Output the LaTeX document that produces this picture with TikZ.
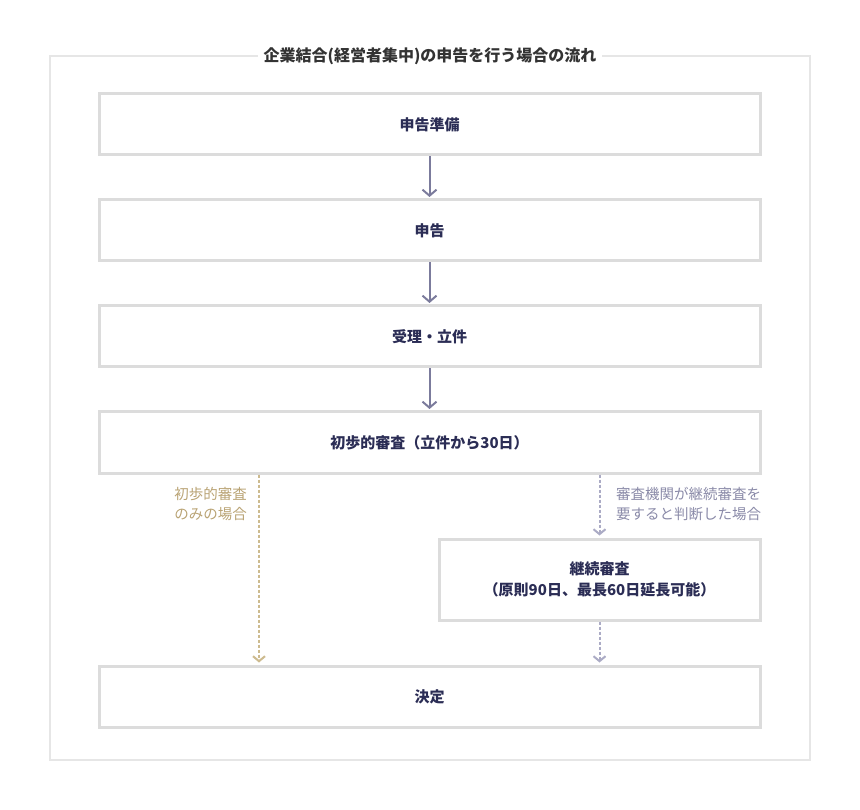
\documentclass[tikz,border=0pt]{standalone}
\usepackage{fontspec}
\setmainfont{Noto Sans CJK JP}
\usepackage{xcolor}
\usetikzlibrary{arrows.meta, positioning}

\definecolor{boxline}{HTML}{DCDCDC}
\definecolor{frameline}{HTML}{E6E6E6}
\definecolor{titletext}{HTML}{333333}
\definecolor{navytext}{HTML}{2B2D55}
\definecolor{arrowgray}{HTML}{7B7B9C}
\definecolor{onlyline}{HTML}{CDBB8F}
\definecolor{onlytext}{HTML}{B9A374}
\definecolor{contline}{HTML}{ABABC5}
\definecolor{conttext}{HTML}{8A8AA8}

\begin{document}
\begin{tikzpicture}[x=1pt, y=1pt, node distance=42pt]
    \tikzstyle{stepbox} = [rectangle, minimum width=661pt, minimum height=61pt, text centered, align=center, draw=boxline, line width=3pt, fill=white, text=navytext, font=\fontsize{15}{21}\selectfont\bfseries]
    \tikzstyle{arrow} = [line width=2pt, draw=arrowgray, -{Straight Barb[length=6pt,width=14pt]}, shorten >=1.5pt]
    \tikzstyle{dotline} = [line width=2pt, dash pattern=on 3pt off 2pt, -{Straight Barb[length=5pt,width=12pt]}, shorten >=2pt]
    \tikzstyle{note} = [font=\fontsize{14.5}{20}\selectfont, inner sep=0pt]

    \useasboundingbox (0,0) rectangle (860,-810);
    \draw [frameline, line width=1.5pt] (50,-56) rectangle (810,-760);
    \node (title) [fill=white, inner xsep=6pt, text=titletext, font=\fontsize{16}{18}\selectfont\bfseries] at (430,-56) {企業結合(経営者集中)の申告を行う場合の流れ};

    \node (prep) [stepbox] at (429.5,-124.5) {申告準備};
    \node (notify) [stepbox, below=of prep] {申告};
    \node (accept) [stepbox, below=of notify] {受理・立件};
    \node (initial) [stepbox, below=of accept] {初歩的審査（立件から30日）};
    \node (cont) [stepbox, minimum width=321pt, minimum height=81pt, below=63pt of initial.south east, anchor=north east] {継続審査\\（原則90日、最長60日延長可能）};
    \node (decide) [stepbox, below=190pt of initial] {決定};
    \coordinate (onlyx) at (259,0);

    \node (onlynote) [note, text=onlytext, align=right, anchor=east] at (247,-504) {初歩的審査\\のみの場合};
    \node (contnote) [note, text=conttext, align=left, anchor=west] at (616,-504) {審査機関が継続審査を\\要すると判断した場合};

    \draw [arrow] (prep) -- (notify);
    \draw [arrow] (notify) -- (accept);
    \draw [arrow] (accept) -- (initial);
    \draw [dotline, draw=onlyline] (initial.south -| onlyx) -- (decide.north -| onlyx);
    \draw [dotline, draw=contline] (initial.south -| cont.north) -- (cont.north);
    \draw [dotline, draw=contline] (cont.south) -- (decide.north -| cont.south);
\end{tikzpicture}
\end{document}
